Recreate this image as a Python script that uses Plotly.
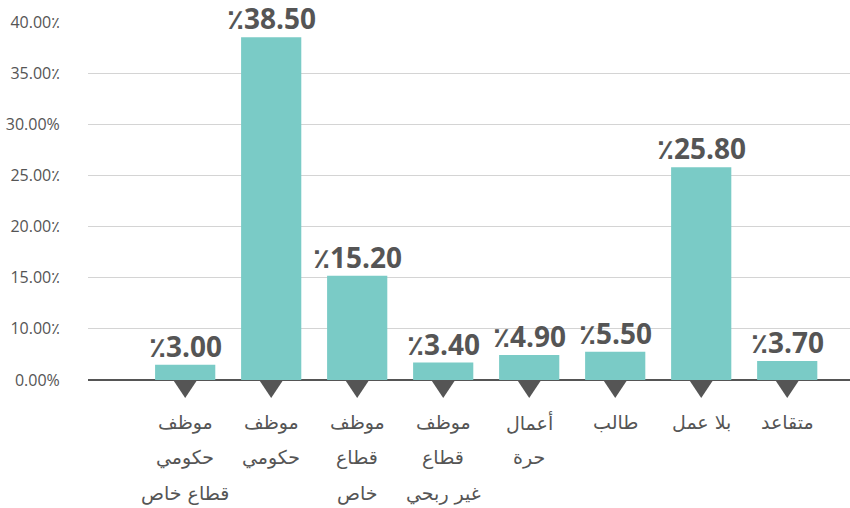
import numpy as np
import plotly.graph_objects as go

# ---------------- data ----------------
category_lines = [
    ["موظف", "حكومي", "قطاع خاص"],
    ["موظف", "حكومي"],
    ["موظف", "قطاع", "خاص"],
    ["موظف", "قطاع", "غير ربحي"],
    ["أعمال", "حرة"],
    ["طالب"],
    ["بلا عمل"],
    ["متقاعد"],
]
values = [3.00, 38.50, 15.20, 3.40, 4.90, 5.50, 25.80, 3.70]
value_labels = ["٪3.00", "٪38.50", "٪15.20", "٪3.40", "٪4.90", "٪5.50", "٪25.80", "٪3.70"]
tick_values = [0, 10, 15, 20, 25, 30, 35, 40]
tick_labels = ["0.00%", "10.00٪", "15.00٪", "20.00٪", "25.00٪", "30.00%", "35.00٪", "40.00٪"]

# ---------------- styles ----------------
BAR_COLOR = "#7ACBC6"
DARK = "#555555"
GRID = "#D4D4D4"
LABEL_FONT = "Open Sans, DejaVu Sans, sans-serif"
AR_FONT = "DejaVu Sans, Noto Sans, sans-serif"

# the reference's value axis is drawn with equally spaced ticks (0, 10, 15, ... 40),
# so values are placed on that axis by piecewise-linear mapping between the ticks
tick_index = list(range(len(tick_values)))
positions = np.interp(values, tick_values, tick_index)
x = list(range(len(values)))

fig = go.Figure()
fig.add_trace(go.Bar(
    x=x, y=positions, width=0.7,
    marker=dict(color=BAR_COLOR, line=dict(width=0)),
    customdata=values,
    hovertemplate="%{customdata:.2f}%<extra></extra>",
))

# decorative down-pointing triangles under each bar (pixel-sized, anchored at the baseline)
shapes = []
for i in x:
    shapes.append(dict(
        type="path", xref="x", yref="paper",
        xsizemode="pixel", ysizemode="pixel", xanchor=i, yanchor=0,
        path="M-12,0 L12,0 L0,-18 Z",
        fillcolor=DARK, line=dict(width=0), layer="above",
    ))

annotations = []
for i, (p, lab) in enumerate(zip(positions, value_labels)):
    annotations.append(dict(
        x=i, y=p, xref="x", yref="y", text=f"<b>{lab}</b>", showarrow=False,
        yanchor="bottom", yshift=-2,
        font=dict(family=LABEL_FONT, size=28, color=DARK),
    ))
for i, lines in enumerate(category_lines):
    for j, line in enumerate(lines):
        annotations.append(dict(
            x=i, y=0, xref="x", yref="paper", text=line, showarrow=False,
            yanchor="middle", yshift=-42 - 35.5 * j,
            font=dict(family=AR_FONT, size=19, color=DARK),
        ))

fig.update_layout(
    width=850, height=508,
    margin=dict(l=88, r=0, t=22, b=128),
    paper_bgcolor="white", plot_bgcolor="white",
    showlegend=False, bargap=0.3,
    annotations=annotations, shapes=shapes,
    xaxis=dict(range=[-1.13, 7.73], showticklabels=False, showgrid=False,
               zeroline=False, showline=False, ticks=""),
    yaxis=dict(range=[0, 7], tickvals=tick_index, ticktext=tick_labels,
               showgrid=True, gridcolor=GRID, gridwidth=1,
               zeroline=True, zerolinecolor=DARK, zerolinewidth=1.5,
               ticks="outside", ticklen=24, tickcolor="rgba(0,0,0,0)",
               tickfont=dict(family=LABEL_FONT, size=16, color=DARK)),
)

fig.write_html(
    "out.html",
    config={"displayModeBar": False},
    post_script="document.body.style.margin='0px';document.body.style.overflow='hidden';",
)
